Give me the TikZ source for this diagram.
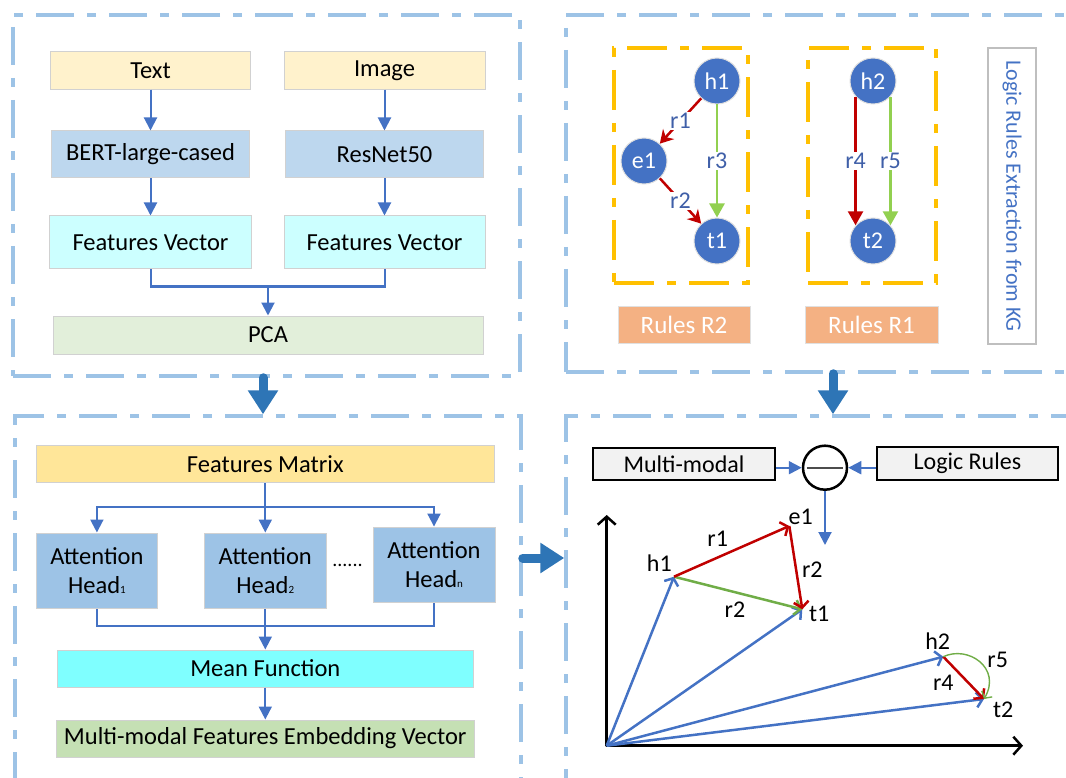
\documentclass[tikz,border=0pt]{standalone}
\usepackage{fontspec}
\setmainfont{Carlito}
\usetikzlibrary{arrows.meta,calc}

\definecolor{panelblue}{HTML}{9DC3E6}
\definecolor{bigblue}{HTML}{2E75B6}
\definecolor{flowblue}{HTML}{4472C4}
\definecolor{rulered}{HTML}{C00000}
\definecolor{lightgreen}{HTML}{92D050}
\definecolor{vecgreen}{HTML}{70AD47}
\definecolor{gold}{HTML}{FFC000}
\definecolor{inputfill}{HTML}{FFF2CC}
\definecolor{modelfill}{HTML}{BDD7EE}
\definecolor{vecfill}{HTML}{CCFFFF}
\definecolor{pcafill}{HTML}{E2EFDA}
\definecolor{matfill}{HTML}{FFE699}
\definecolor{headfill}{HTML}{9DC3E6}
\definecolor{meanfill}{HTML}{7FFFFF}
\definecolor{embfill}{HTML}{C5E0B4}
\definecolor{rulefill}{HTML}{F4B183}
\definecolor{labelblue}{HTML}{3F5FA8}
\definecolor{opfill}{HTML}{F2F2F2}

\newcommand{\headidx}[1]{{\fontsize{11}{12}\selectfont #1}}

\begin{document}
\begin{tikzpicture}[x=1pt,y=-1pt,
  panel/.style={draw=panelblue, line width=3.5pt, dash pattern=on 38pt off 13pt on 9pt off 13pt, inner sep=0pt},
  goldframe/.style={draw=gold, line width=3.5pt, dash pattern=on 40pt off 13pt on 9pt off 13pt, inner sep=0pt},
  box/.style={draw=black!18, line width=1pt, inner sep=0pt, align=center, font=\fontsize{24.5}{29}\selectfont},
  flow/.style={draw=flowblue, line width=2pt, -{Triangle[width=13pt,length=13pt]}},
  flowline/.style={draw=flowblue, line width=2pt},
  bigarrow/.style={draw=bigblue, line width=9pt, line cap=round, -{Triangle[width=29pt,length=24pt]}},
  entity/.style={circle, fill=flowblue, draw=white!75!gray, line width=1pt, minimum size=46pt, inner sep=0pt, text=white, font=\fontsize{24}{26}\selectfont},
  rlabel/.style={fill=white, inner sep=1pt, text=labelblue, font=\fontsize{24}{26}\selectfont},
  redrule/.style={draw=rulered, line width=2.5pt, -{Stealth[length=13pt,width=15pt]}},
  redstraight/.style={draw=rulered, line width=2.5pt, -{Triangle[length=14pt,width=15pt]}},
  greenstraight/.style={draw=lightgreen, line width=2.5pt, -{Triangle[length=14pt,width=15pt]}},
  rulebox/.style={fill=rulefill, draw=black!12, line width=1pt, text=white, minimum height=37pt, inner sep=0pt, font=\fontsize{25}{28}\selectfont},
  opbox/.style={draw=black, fill=opfill, line width=2pt, inner sep=0pt, font=\fontsize{24}{28}\selectfont},
  axis/.style={draw=black, line width=2.5pt, -{Straight Barb[length=8pt,width=18pt]}},
  vec/.style={draw=flowblue, line width=2.5pt, -{Straight Barb[length=6pt,width=15pt]}},
  redvec/.style={draw=rulered, line width=2.5pt, -{Straight Barb[length=6pt,width=15pt]}},
  greenvec/.style={draw=vecgreen, line width=2.5pt, -{Straight Barb[length=6pt,width=15pt]}},
  plotlabel/.style={inner sep=0pt, font=\fontsize{24}{26}\selectfont}
]
\useasboundingbox (0,0) rectangle (1066,778);
\clip (0,0) rectangle (1066,778);

% ---------- panels ----------
\node[panel, minimum width=507pt, minimum height=361pt] (P1) at (266.5,195.5) {};
\node[panel, minimum width=534pt, minimum height=357pt] (P2) at (833,193.5) {};
\node[panel, minimum width=506pt, minimum height=404pt] (P3) at (268,618) {};
\node[panel, minimum width=534pt, minimum height=404pt] (P4) at (833,618) {};

% ---------- feature extraction ----------
\node[box, fill=inputfill, minimum width=199.5pt, minimum height=37.5pt] (text) at (150.5,70.3) {Text};
\node[box, fill=inputfill, minimum width=201pt, minimum height=37.5pt] (image) at (384.5,70.3) {Image};
\node[box, fill=modelfill, minimum width=198.5pt, minimum height=47pt] (bert) at (150.5,154.5) {BERT-large-cased};
\node[box, fill=modelfill, minimum width=198pt, minimum height=47pt] (resnet) at (384.5,154.5) {ResNet50};
\node[box, fill=vecfill, minimum width=201.5pt, minimum height=53pt] (fv1) at (150.5,242.5) {Features Vector};
\node[box, fill=vecfill, minimum width=201pt, minimum height=53pt] (fv2) at (384.5,242.5) {Features Vector};
\node[box, fill=pcafill, minimum width=430pt, minimum height=38pt] (pca) at (268,335) {PCA};

\draw[flow] (text) -- (bert);
\draw[flow] (bert) -- (fv1);
\draw[flow] (image) -- (resnet);
\draw[flow] (resnet) -- (fv2);
\coordinate (join) at (268,286.5);
\draw[flowline] (fv1.south) |- (join) -| (fv2.south);
\draw[flow] (join) -- (pca.north);

% ---------- attention ----------
\node[box, fill=matfill, minimum width=458.5pt, minimum height=37pt] (fm) at (265.3,464) {Features Matrix};
\node[box, fill=headfill, minimum width=121.7pt, minimum height=75.6pt] (ah1) at (96.9,570.8) {Attention\\Head\headidx{1}};
\node[box, fill=headfill, minimum width=122.3pt, minimum height=75.6pt] (ah2) at (265.3,570.8) {Attention\\Head\headidx{2}};
\node[box, fill=headfill, minimum width=122pt, minimum height=75.5pt] (ahn) at (434,564.8) {Attention\\Head\headidx{n}};
\node[inner sep=0pt, font=\fontsize{20}{22}\selectfont] (dots) at (347.5,565) {......};
\node[box, fill=meanfill, minimum width=416pt, minimum height=37pt] (mean) at (265.3,668.5) {Mean Function};
\node[box, fill=embfill, minimum width=417.5pt, minimum height=37pt] (emb) at (265.3,738.5) {Multi-modal Features Embedding Vector};

\coordinate (split) at (265.3,506.7);
\draw[flow] (fm.south) -- (ah2.north);
\draw[flow] (split) -| (ah1.north);
\draw[flow] (split) -| (ahn.north);
\coordinate (merge) at (265.3,625.5);
\draw[flowline] (ah1.south) |- (merge);
\draw[flowline] (ahn.south) |- (merge);
\draw[flow] (ah2.south) -- (mean.north);
\draw[flow] (mean) -- (emb);

% ---------- logic rules ----------
\node[goldframe, minimum width=134pt, minimum height=235pt] (g2) at (681,165.5) {};
\node[goldframe, minimum width=128pt, minimum height=235pt] (g1) at (872,165.5) {};

\node[entity] (h1) at (717,81) {h1};
\node[entity] (e1) at (644,161) {e1};
\node[entity] (t1) at (717,241) {t1};
\node[entity] (h2) at (873,81) {h2};
\node[entity] (t2) at (873,241) {t2};

\draw[redrule] (h1) -- node[rlabel] {r1} (e1);
\draw[redrule] (e1) -- node[rlabel] {r2} (t1);
\draw[greenstraight] (h1) -- node[rlabel] {r3} (t1);
\draw[redstraight] (h2.-138) -- node[rlabel] {r4} (t2.138);
\draw[greenstraight] (h2.-42) -- node[rlabel] {r5} (t2.42);

\node[rulebox, minimum width=132pt] (rr2) at (684,324.5) {Rules R2};
\node[rulebox, minimum width=133pt] (rr1) at (871.5,324.5) {Rules R1};
\node[draw=black!25, line width=2pt, rotate=-90, minimum width=296pt, minimum height=48pt, inner sep=0pt, text=flowblue, font=\fontsize{22}{24}\selectfont] (kg) at (1012,196) {Logic Rules Extraction from KG};

% ---------- panel transitions ----------
\draw[bigarrow] ([xshift=-3.5pt]P1.south) -- ([xshift=-3.5pt]P1.south |- P3.north);
\draw[bigarrow] (P2.south) -- (P2.south |- P4.north);
\coordinate (mid) at (0,558);
\draw[bigarrow] (P3.east |- mid) -- (P4.west |- mid);

% ---------- rule embedding ----------
\node[opbox, minimum width=182pt, minimum height=32.5pt] (mm) at (684,464) {Multi-modal};
\node[opbox, minimum width=181.3pt, minimum height=33.3pt] (lr) at (967.4,463.4) {Logic Rules};
\node[circle, draw=black, line width=2.5pt, fill=white, minimum size=44pt, inner sep=0pt] (op) at (825,467.7) {};
\draw[line width=1.8pt, black!70] ([xshift=5pt]op.west) -- ([xshift=-5pt]op.east);
\draw[flow] (mm.east |- op) -- (op.west);
\draw[flow] (lr.west |- op) -- (op.east);
\coordinate (opout) at (825,545);
\draw[flow] (op.south) -- (opout);

% vector space
\coordinate (O) at (606.7,745.7);
\coordinate (ytop) at (606.7,515);
\coordinate (xend) at (1023,745.7);
\coordinate (vh1) at (674,576.7);
\coordinate (ve1) at (789.3,526);
\coordinate (vt1) at (802.3,609.3);
\coordinate (vh2) at (943.3,656.7);
\coordinate (vt2) at (984,699);

\draw[axis, line cap=round] (O) -- (ytop);
\draw[axis, line cap=round] (O) -- (xend);
\draw[vec] (O) -- (vh1);
\draw[vec] (O) -- (vt1);
\draw[vec] (O) -- (vh2);
\draw[vec] (O) -- (vt2);
\draw[greenvec] (vh1) -- (vt1);
\draw[redvec] (vh1) -- (ve1);
\draw[redvec] (ve1) -- (vt1);
\draw[redvec] (vh2) -- (vt2);
\draw[draw=vecgreen, line width=1.4pt, -{Straight Barb[length=5pt,width=12pt]}] (vh2) .. controls (968,645) and (1002,668) .. (vt2);

\node[plotlabel] (le1) at (800.7,517) {e1};
\node[plotlabel] (lr1) at (717.7,539) {r1};
\node[plotlabel] (lh1) at (659.3,563.3) {h1};
\node[plotlabel] (lr2a) at (812.3,570) {r2};
\node[plotlabel] (lr2b) at (735,609.3) {r2};
\node[plotlabel] (lt1) at (819.3,614.3) {t1};
\node[plotlabel] (lh2) at (937.7,640.7) {h2};
\node[plotlabel] (lr5) at (997.7,660) {r5};
\node[plotlabel] (lr4) at (943.3,682.7) {r4};
\node[plotlabel] (lt2) at (1003.3,710) {t2};
\end{tikzpicture}
\end{document}
